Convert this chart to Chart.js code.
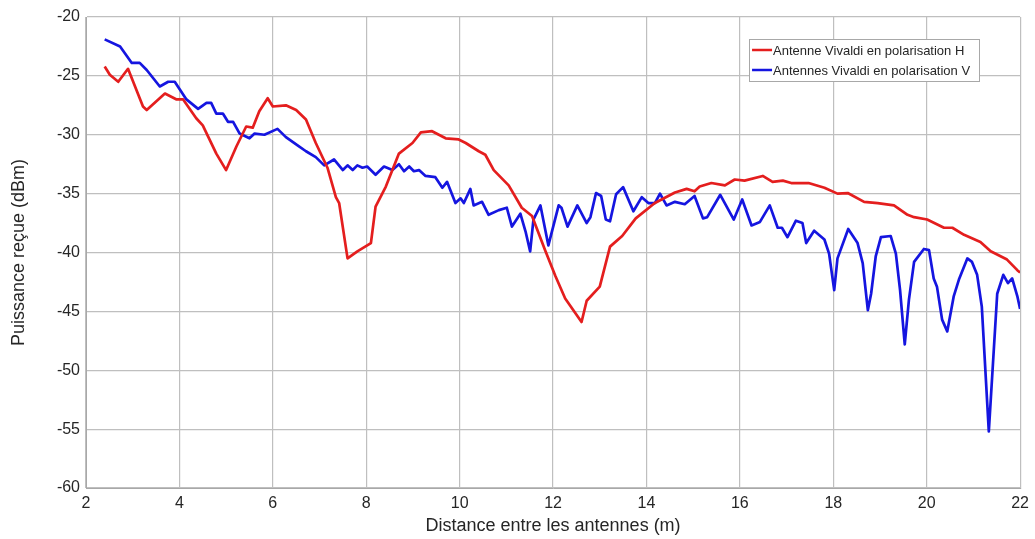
<!DOCTYPE html>
<html>
<head>
<meta charset="utf-8">
<script src="https://cdn.jsdelivr.net/npm/chart.js@4/dist/chart.umd.min.js"></script>
<style>
  html, body { margin: 0; padding: 0; background: #fff; }
  #wrap { width: 1035px; height: 539px; }
</style>
</head>
<body>
<div id="wrap"><canvas id="chart" width="1035" height="539"></canvas></div>
<script>
(function() {
  'use strict';

  var RED  = '#e41e1e';
  var BLUE = '#1515e0';
  var GRID = '#bfbfbf';
  var TEXT = '#262626';
  var FONT = "'Liberation Sans', Arial, sans-serif";

  var SERIES_LABELS = [
    'Antenne Vivaldi en polarisation H',
    'Antennes Vivaldi en polarisation V'
  ];

  // polarisation H (rouge)
  var hX = [2.40, 2.51, 2.69, 2.90, 3.22, 3.30, 3.69, 3.94, 4.08, 4.36, 4.50, 4.79, 5.00, 5.22, 5.43, 5.57, 5.71, 5.89,
            6.00, 6.28, 6.50, 6.71, 6.92, 7.17, 7.35, 7.42, 7.60, 7.81, 8.10, 8.20, 8.42, 8.70, 8.99, 9.17, 9.41, 9.70,
            9.98, 10.13, 10.41, 10.55, 10.73, 11.05, 11.33, 11.55, 11.83, 12.05, 12.26, 12.61, 12.72, 13.00, 13.22, 13.48,
            13.77, 14.18, 14.61, 14.86, 15.03, 15.14, 15.39, 15.68, 15.89, 16.10, 16.49, 16.70, 16.92, 17.10, 17.47, 17.81,
            18.09, 18.31, 18.66, 18.95, 19.30, 19.59, 19.73, 20.01, 20.37, 20.55, 20.80, 21.15, 21.37, 21.72, 21.94, 22.00];
  var hY = [-24.2, -24.9, -25.5, -24.4, -27.6, -27.9, -26.5, -27.0, -27.0, -28.6, -29.2, -31.6, -33.0, -31.0, -29.3, -29.4, -28.0, -26.9,
            -27.6, -27.5, -27.9, -28.7, -30.7, -32.8, -35.3, -35.8, -40.5, -39.9, -39.2, -36.1, -34.4, -31.6, -30.7, -29.8, -29.7, -30.3,
            -30.4, -30.7, -31.4, -31.7, -33.0, -34.3, -36.2, -36.9, -39.8, -42.0, -43.9, -45.9, -44.1, -42.9, -39.5, -38.6,
            -37.1, -35.8, -34.9, -34.6, -34.8, -34.4, -34.1, -34.3, -33.8, -33.9, -33.5, -34.0, -33.9, -34.1, -34.1, -34.5,
            -35.0, -34.95, -35.7, -35.8, -36.0, -36.8, -37.0, -37.2, -37.9, -37.9, -38.5, -39.1, -39.9, -40.6, -41.5, -41.7];

  // polarisation V (bleu)
  var vX = [2.40, 2.73, 2.98, 3.15, 3.30, 3.58, 3.76, 3.90, 4.15, 4.40, 4.58, 4.68, 4.79, 4.93, 5.04, 5.15, 5.29, 5.50,
            5.61, 5.82, 6.10, 6.28, 6.53, 6.71, 6.92, 7.10, 7.31, 7.50, 7.60, 7.71, 7.81, 7.92, 8.02, 8.20, 8.38, 8.56,
            8.70, 8.81, 8.92, 9.02, 9.13, 9.27, 9.48, 9.63, 9.73, 9.91, 10.02, 10.09, 10.23, 10.30, 10.48, 10.62, 10.84,
            11.01, 11.12, 11.30, 11.41, 11.51, 11.58, 11.73, 11.90, 12.12, 12.18, 12.31, 12.52, 12.72, 12.80, 12.92, 13.03,
            13.13, 13.22, 13.35, 13.50, 13.72, 13.90, 14.04, 14.18, 14.29, 14.43, 14.61, 14.82, 15.03, 15.21, 15.30, 15.58,
            15.87, 16.05, 16.25, 16.43, 16.64, 16.81, 16.90, 17.02, 17.20, 17.34, 17.42, 17.59, 17.81, 17.91, 18.02, 18.09,
            18.32, 18.52, 18.63, 18.74, 18.81, 18.91, 19.02, 19.23, 19.34, 19.43, 19.53, 19.62, 19.73, 19.94, 20.05, 20.15,
            20.22, 20.33, 20.44, 20.58, 20.69, 20.87, 20.97, 21.08, 21.18, 21.33, 21.51, 21.64, 21.74, 21.83, 21.94, 22.00];
  var vY = [-21.9, -22.5, -23.9, -23.9, -24.5, -25.9, -25.5, -25.5, -27.0, -27.8, -27.3, -27.3, -28.2, -28.2, -28.9, -28.9, -29.9, -30.3,
            -29.9, -30.0, -29.5, -30.2, -30.9, -31.4, -31.9, -32.6, -32.1, -33.0, -32.6, -33.0, -32.6, -32.8, -32.7, -33.4, -32.7, -33.0,
            -32.5, -33.1, -32.7, -33.1, -33.0, -33.5, -33.6, -34.5, -34.0, -35.8, -35.4, -35.8, -34.6, -36.0, -35.7, -36.8, -36.4,
            -36.2, -37.8, -36.7, -38.2, -39.9, -37.2, -36.0, -39.4, -36.0, -36.2, -37.8, -36.0, -37.5, -37.0, -34.95, -35.2,
            -37.2, -37.35, -35.05, -34.45, -36.5, -35.3, -35.8, -35.8, -35.0, -36.0, -35.7, -35.9, -35.2, -37.1, -37.0, -35.1,
            -37.2, -35.5, -37.7, -37.4, -36.0, -37.9, -37.9, -38.7, -37.3, -37.5, -39.2, -38.15, -38.9, -40.1, -43.2, -40.5,
            -38.0, -39.2, -40.9, -44.9, -43.5, -40.3, -38.7, -38.6, -40.1, -43.2, -47.8, -44.0, -40.8, -39.7, -39.8, -42.2,
            -42.9, -45.7, -46.7, -43.7, -42.3, -40.5, -40.8, -41.9, -44.6, -55.2, -43.5, -41.9, -42.6, -42.2, -43.7, -44.8];

  var X_MIN = 2, X_MAX = 22, X_STEP = 2;
  var Y_MIN = -60, Y_MAX = -20, Y_STEP = 5;

  function points(xs, ys) {
    return xs.map(function(x, i) { return { x: x, y: ys[i] }; });
  }

  // boxed legend, MATLAB style, top right inside the axes
  var boxLegend = {
    id: 'boxLegend',
    afterDraw: function(chart) {
      var ctx = chart.ctx;
      var area = chart.chartArea;
      var sets = chart.data.datasets;
      ctx.save();
      ctx.font = '13px ' + FONT;
      var textW = 0;
      sets.forEach(function(ds) { textW = Math.max(textW, ctx.measureText(ds.label).width); });
      var w = 3 + 20 + 2 + textW + 8;
      var h = 42;
      var x0 = area.right - 41 - w;
      var y0 = area.top + 22;
      ctx.fillStyle = '#fff';
      ctx.fillRect(x0, y0, w, h);
      ctx.strokeStyle = '#a8a8a8';
      ctx.lineWidth = 1;
      ctx.strokeRect(Math.round(x0) + 0.5, Math.round(y0) + 0.5, Math.round(w), Math.round(h));
      sets.forEach(function(ds, i) {
        var cy = y0 + 11 + i * 20;
        ctx.strokeStyle = ds.borderColor;
        ctx.lineWidth = 2.5;
        ctx.beginPath();
        ctx.moveTo(x0 + 3, cy);
        ctx.lineTo(x0 + 23, cy);
        ctx.stroke();
        ctx.fillStyle = TEXT;
        ctx.textBaseline = 'middle';
        ctx.textAlign = 'left';
        ctx.fillText(ds.label, x0 + 24, cy + 1);
      });
      ctx.restore();
    }
  };

  new Chart(document.getElementById('chart'), {
    type: 'line',
    data: {
      datasets: [
        {
          label: SERIES_LABELS[0],
          data: points(hX, hY),
          borderColor: RED,
          backgroundColor: RED,
          borderWidth: 2.7,
          pointRadius: 0,
          tension: 0,
          borderJoinStyle: 'round'
        },
        {
          label: SERIES_LABELS[1],
          data: points(vX, vY),
          borderColor: BLUE,
          backgroundColor: BLUE,
          borderWidth: 2.7,
          pointRadius: 0,
          tension: 0,
          borderJoinStyle: 'round'
        }
      ]
    },
    options: {
      responsive: false,
      animation: false,
      layout: { padding: { top: 17, right: 11, left: 0, bottom: 0 } },
      plugins: {
        legend: { display: false },
        tooltip: { enabled: false }
      },
      scales: {
        x: {
          type: 'linear',
          min: X_MIN,
          max: X_MAX,
          afterFit: function(scale) { scale.height = 51; },
          ticks: {
            stepSize: X_STEP,
            color: TEXT,
            padding: 6,
            maxRotation: 0,
            font: { family: FONT, size: 16 }
          },
          grid: { color: GRID, drawTicks: false, lineWidth: 1.2 },
          border: { color: '#a8a8a8' },
          title: {
            display: true,
            text: 'Distance entre les antennes (m)',
            color: TEXT,
            padding: { top: 0, bottom: 2 },
            font: { family: FONT, size: 18 }
          }
        },
        y: {
          min: Y_MIN,
          max: Y_MAX,
          afterFit: function(scale) { scale.width = 86; },
          ticks: {
            stepSize: Y_STEP,
            color: TEXT,
            padding: 6,
            font: { family: FONT, size: 16 }
          },
          grid: { color: GRID, drawTicks: false, lineWidth: 1.2 },
          border: { color: '#a8a8a8' },
          title: {
            display: true,
            text: 'Puissance reçue (dBm)',
            color: TEXT,
            padding: { top: 8, bottom: 0 },
            font: { family: FONT, size: 18 }
          }
        }
      }
    },
    plugins: [boxLegend]
  });
})();
</script>
</body>
</html>
